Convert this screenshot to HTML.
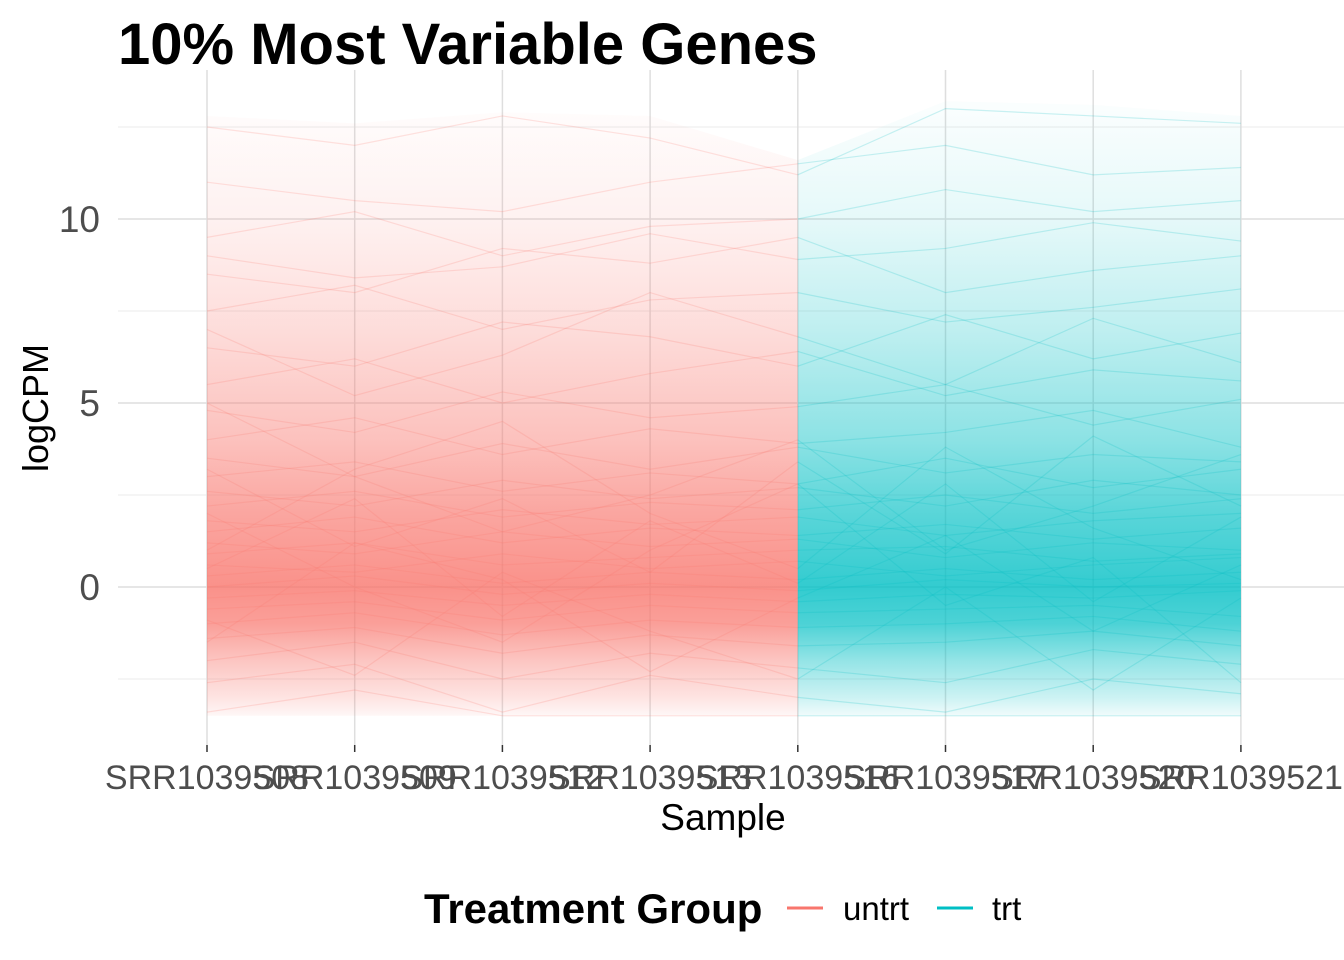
<!DOCTYPE html>
<html><head><meta charset="utf-8"><style>
html,body{margin:0;padding:0;background:#fff;width:1344px;height:960px;overflow:hidden}
svg{display:block;font-family:"Liberation Sans",sans-serif}
</style></head><body>
<svg id="chart" width="1344" height="960">
<defs>
<linearGradient id="gr" gradientUnits="userSpaceOnUse" x1="0" y1="100" x2="0" y2="720"></linearGradient>
<linearGradient id="gc" gradientUnits="userSpaceOnUse" x1="0" y1="100" x2="0" y2="720"></linearGradient>
</defs>
<g id="grid"></g>
<g id="bands"></g>
<g id="lines"></g>
<g id="axes"></g>
<text x="118" y="64" font-size="58" font-weight="bold" fill="#000">10% Most Variable Genes</text>
<text transform="translate(48,408) rotate(-90)" text-anchor="middle" font-size="36" fill="#000">logCPM</text>
<text x="723" y="830" text-anchor="middle" font-size="37" fill="#000">Sample</text>
<g>
<text x="424" y="923" font-size="42" font-weight="bold" fill="#000">Treatment Group</text>
<line x1="787" y1="908" x2="823" y2="908" stroke="#F8766D" stroke-width="3"/>
<text x="843" y="920" font-size="33" fill="#000">untrt</text>
<line x1="937" y1="908" x2="973" y2="908" stroke="#00BFC4" stroke-width="3"/>
<text x="992" y="920" font-size="33" fill="#000">trt</text>
</g>
</svg>
<script>
const samples = ["SRR1039508","SRR1039509","SRR1039512","SRR1039513","SRR1039516","SRR1039517","SRR1039520","SRR1039521"];
const yTicks = [0,5,10];
const yMinor = [-2.5,2.5,7.5,12.5];
const bandMax = [12.8,12.6,12.9,12.8,11.6,13.2,13.1,12.8];
const bandMin = [-3.5,-3.5,-3.5,-3.5,-3.5,-3.5,-3.5,-3.5];
const densStops = [13,10,7,4,2,0,-1,-2,-3,-3.5];
const densAlpha = [0.02,0.1,0.25,0.45,0.65,0.8,0.7,0.42,0.2,0.06];
const genes = [
[11,10.5,10.2,11,11.5,12,11.2,11.4],[9.5,10.2,9,9.8,10,10.8,10.2,10.5],[8.5,8,9.2,8.8,9.5,8,8.6,9],
[7.5,8.2,7,7.8,8,7.2,7.6,8.1],[6.5,6,7.2,6.8,6,7.4,6.2,6.9],[5.5,6.2,5,5.8,6.4,5.2,5.9,5.6],
[4.8,4.2,5.3,4.6,4.9,5.5,4.4,5.1],[4,4.6,3.6,4.3,3.9,4.2,4.8,3.8],[3.5,3,3.9,3.2,3.8,3.1,3.6,3.4],
[3,3.4,2.6,3.1,2.8,3.5,2.7,3.2],[2.6,2.2,2.9,2.4,2.7,2.2,2.9,2.5],[2.2,2.6,1.9,2.3,2.1,2.5,2,2.4],
[1.8,1.5,2.1,1.7,1.9,1.4,1.8,2],[1.5,1.9,1.2,1.6,1.4,1.7,1.3,1.6],[1.2,0.9,1.5,1.1,1.3,0.8,1.2,1],
[0.9,1.2,0.6,0.8,1,1.1,0.7,0.9],[0.6,0.4,0.9,0.5,0.7,0.3,0.6,0.8],[0.3,0.6,0.1,0.4,0.2,0.5,0.2,0.4],
[0,0.3,-0.2,0.1,-0.1,0.2,0,0.1],[-0.3,-0.1,-0.5,-0.2,-0.4,-0.2,-0.3,-0.1],[-0.6,-0.4,-0.9,-0.5,-0.7,-0.6,-0.5,-0.8],
[-1,-0.7,-1.3,-0.9,-1.1,-1,-0.8,-1.2],[-1.4,-1.1,-1.8,-1.3,-1.6,-1.5,-1.2,-1.6],[-2,-1.5,-2.5,-1.8,-2.2,-2.6,-1.7,-2.1],
[-2.6,-2.1,-3.4,-2.4,-3,-3.4,-2.5,-2.9],[-3.4,-2.8,-3.5,-3.5,-3.5,-3.5,-3.5,-3.5],[5,3,1.5,2.5,4,1,2.2,3.6],
[1,3.2,4.5,2,0.5,3.8,1.6,0.2],[7,5.2,6.3,8,6.8,5.5,7.3,6.1],[2,0,-1.5,1,2.8,-0.5,0.8,-2.6],
[-1.5,1.2,0.2,-2.3,-0.3,1.4,-1.2,0.6],[12.5,12,12.8,12.2,11.2,13,12.8,12.6],[0.5,2.4,-0.8,1.8,0.1,2.8,-0.4,1.9],
[3.2,1.1,2.4,0.4,3.4,0.9,4.1,2.2],[9,8.4,8.7,9.6,8.9,9.2,9.9,9.4],[-0.9,-2.4,0.4,-1.2,-2.5,0,-2.8,-0.3]
];
const X0=207, DX=147.7, Y0=587, SY=36.8;
const xs=i=>X0+DX*i, ys=v=>Y0-v*SY;
const NS="http://www.w3.org/2000/svg";
function mk(tag,attrs,parent){const e=document.createElementNS(NS,tag);for(const k in attrs)e.setAttribute(k,attrs[k]);parent.appendChild(e);return e;}
[["gr","#F8766D"],["gc","#00BFC4"]].forEach(([id,c])=>{const g=document.getElementById(id);
densStops.forEach((v,i)=>{mk("stop",{offset:((ys(v)-100)/620).toFixed(4),"stop-color":c,"stop-opacity":densAlpha[i]},g);});});
const grid=document.getElementById("grid");
yMinor.forEach(v=>{const l=mk("line",{x1:118,x2:1344,y1:ys(v),y2:ys(v),stroke:"#ebebeb","stroke-width":1},grid);

});
yTicks.forEach(v=>{const l=mk("line",{x1:118,x2:1344,y1:ys(v),y2:ys(v),stroke:"#dedede","stroke-width":1.5},grid);

});
samples.forEach((s,i)=>{const l=mk("line",{x1:xs(i),x2:xs(i),y1:70,y2:745,stroke:"#dedede","stroke-width":1.5},grid);

});
const bands=document.getElementById("bands");
function band(a,b,fill,name){let p=[];for(let i=a;i<=b;i++)p.push(xs(i)+","+ys(bandMax[i]));for(let i=b;i>=a;i--)p.push(xs(i)+","+ys(bandMin[i]));
const e=mk("polygon",{points:p.join(" "),fill:fill},bands);

}
band(0,4,"url(#gr)","untrt-band");band(4,7,"url(#gc)","trt-band");
const lg=document.getElementById("lines");
genes.forEach((g,gi)=>{
 const pr=[],pc=[];for(let i=0;i<=4;i++)pr.push(xs(i)+","+ys(g[i]));for(let i=4;i<8;i++)pc.push(xs(i)+","+ys(g[i]));
 const a=mk("polyline",{points:pr.join(" "),fill:"none",stroke:"#F8766D","stroke-opacity":0.2,"stroke-width":1.2},lg);
 
 
 const b=mk("polyline",{points:pc.join(" "),fill:"none",stroke:"#00BFC4","stroke-opacity":0.2,"stroke-width":1.2},lg);
 
 
});
const ax=document.getElementById("axes");
yTicks.forEach(v=>{const t=mk("text",{x:100,y:ys(v)+13,"text-anchor":"end","font-size":37,fill:"#4d4d4d"},ax);t.textContent=v;

});
samples.forEach((s,i)=>{const tk=mk("line",{x1:xs(i),x2:xs(i),y1:745,y2:752,stroke:"#333","stroke-width":1.5},ax);


const t=mk("text",{x:xs(i),y:789,"text-anchor":"middle","font-size":34,fill:"#4d4d4d"},ax);t.textContent=s;

});
</script>
</body></html>
